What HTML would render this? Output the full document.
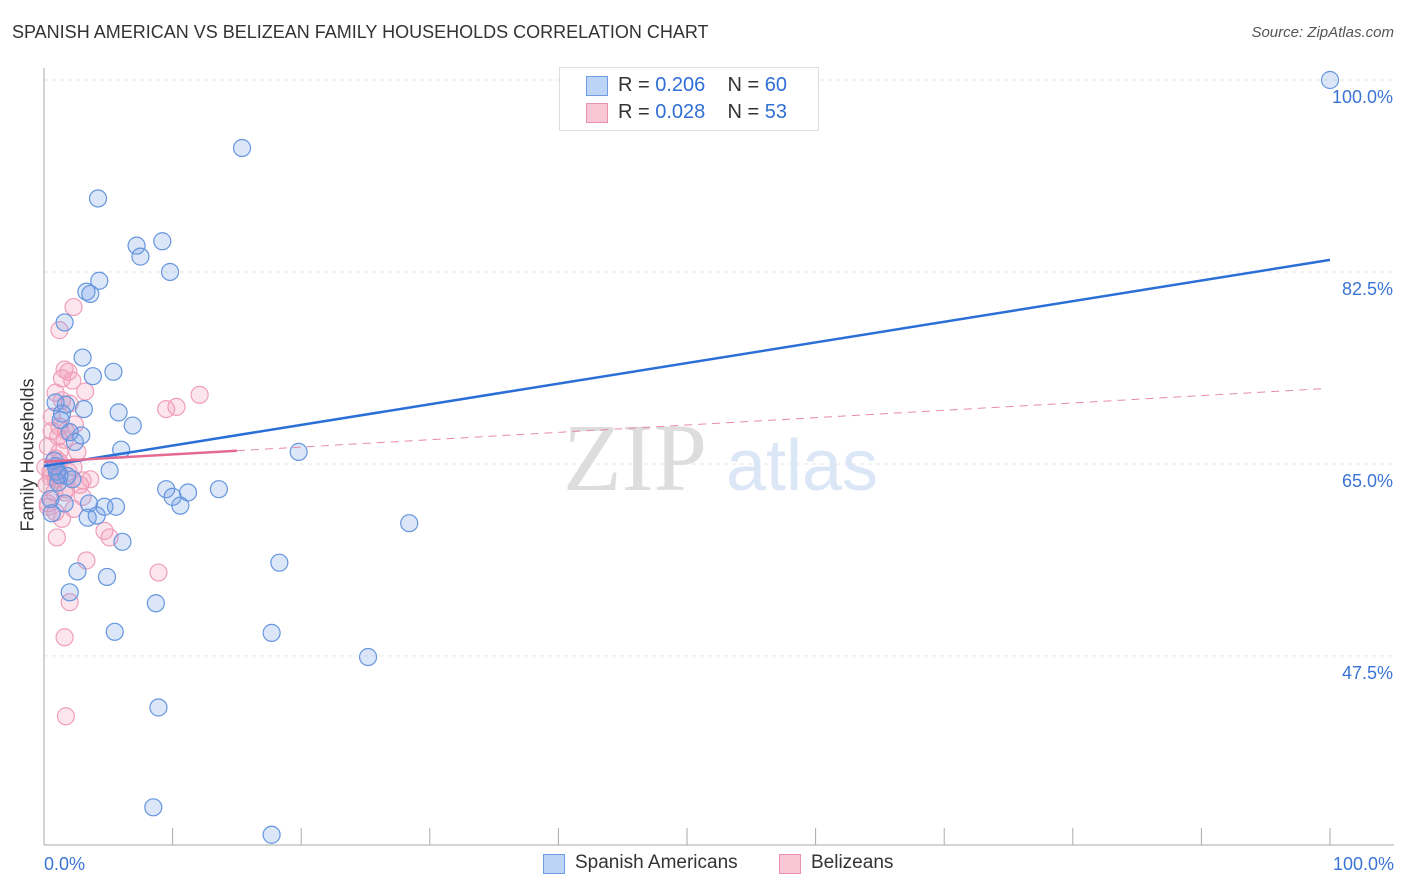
<!DOCTYPE html>
<html><head><meta charset="utf-8"><style>
body{margin:0;background:#fff;font-family:"Liberation Sans",sans-serif;}
#wrap{position:relative;width:1406px;height:892px;overflow:hidden;}
.t{position:absolute;white-space:nowrap;}
</style></head><body><div id="wrap">
<div class="t" style="left:12px;top:22px;font-size:18px;color:#333;">SPANISH AMERICAN VS BELIZEAN FAMILY HOUSEHOLDS CORRELATION CHART</div>
<div class="t" style="right:12px;top:24px;font-size:15px;color:#555;font-style:italic;">Source: ZipAtlas.com</div>
<div class="t" style="left:28px;top:455px;font-size:18px;color:#333;transform:translate(-50%,-50%) rotate(-90deg);">Family Households</div>
<svg id="svg" width="1406" height="892" style="position:absolute;left:0;top:0"></svg>
<div style="position:absolute;left:559px;top:67px;width:258px;height:62px;border:1px solid #ddd;background:#fff;font-size:20px;color:#333;">
<div style="position:absolute;left:26px;top:8px;width:20px;height:18px;background:#bcd4f5;border:1px solid #6f9be0;"></div>
<div class="t" style="left:58px;top:6px;">R = <span style="color:#2f6fd6">0.206</span>&nbsp;&nbsp;&nbsp; N = <span style="color:#2f6fd6">60</span></div>
<div style="position:absolute;left:26px;top:35px;width:20px;height:18px;background:#f8c6d5;border:1px solid #e990ad;"></div>
<div class="t" style="left:58px;top:33px;">R = <span style="color:#2f6fd6">0.028</span>&nbsp;&nbsp;&nbsp; N = <span style="color:#2f6fd6">53</span></div>
</div>
<div style="position:absolute;left:543px;top:852px;font-size:19px;color:#333;">
<div style="position:absolute;left:0;top:2px;width:20px;height:18px;background:#bcd4f5;border:1px solid #6f9be0;"></div>
<div class="t" style="left:32px;top:0;">Spanish Americans</div>
<div style="position:absolute;left:236px;top:2px;width:20px;height:18px;background:#f8c6d5;border:1px solid #e990ad;"></div>
<div class="t" style="left:268px;top:0;">Belizeans</div>
</div>
</div>
<script>
const yTicks=[100,82.5,65,47.5];
const yTickLabels=["100.0%","82.5%","65.0%","47.5%"];
const xTickLabels=["0.0%","100.0%"];
const blueX=[100,15.4,4.2,7.2,9.2,7.5,9.8,4.3,3.3,3.6,1.6,3.0,5.4,3.8,0.9,5.8,1.7,3.1,1.4,6.9,2.9,2.4,6.0,19.8,0.8,5.1,1.0,1.8,2.2,1.1,9.5,13.6,11.2,10.0,10.6,5.6,3.5,0.6,4.1,3.4,28.4,6.1,18.3,2.6,4.9,2.0,8.7,5.5,17.7,25.2,8.9,8.5,17.7,1.2,0.5,1.6,4.7,0.9,2.0,1.3];
const blueY=[100,93.8,89.2,84.9,85.3,83.9,82.5,81.7,80.7,80.5,77.9,74.7,73.4,73.0,70.6,69.7,70.4,70.0,69.6,68.5,67.6,67.0,66.3,66.1,65.3,64.4,64.3,63.9,63.6,63.3,62.7,62.7,62.4,62.0,61.2,61.1,61.4,60.5,60.3,60.1,59.6,57.9,56.0,55.2,54.7,53.3,52.3,49.7,49.6,47.4,42.8,33.7,31.2,64.0,61.8,61.4,61.1,64.8,67.9,69.0];
const pinkX=[1.2,2.3,1.6,1.9,1.4,2.2,3.2,0.9,9.5,10.3,12.1,1.2,1.7,2.4,0.6,1.1,1.6,0.3,0.9,1.2,2.3,0.5,1.0,3.0,0.2,1.7,3.0,0.3,2.3,0.9,1.4,4.7,5.1,1.0,3.3,8.9,2.0,1.6,1.7,0.5,0.1,0.8,1.9,2.6,1.2,0.6,2.0,1.4,0.3,2.8,0.9,1.6,3.6];
const pinkY=[77.2,79.3,73.6,73.4,72.8,72.6,71.6,71.5,70.0,70.2,71.3,68.4,68.0,68.6,68.0,67.5,67.2,66.6,65.5,65.2,64.7,64.3,64.0,63.5,63.1,62.7,62.0,61.4,60.9,60.6,60.0,58.9,58.3,58.3,56.2,55.1,52.4,49.2,42.0,63.8,64.7,62.4,64.3,66.1,66.1,69.3,70.5,70.8,61.1,63.1,63.6,62.4,63.6];
const blueTrend=[64.8,83.6], pinkTrend=[65.2,71.9];
const svg=document.getElementById('svg'),NS='http://www.w3.org/2000/svg';
const X=v=>44+v*12.86, Y=v=>80+(100-v)*10.97;
function mk(t,a){const e=document.createElementNS(NS,t);for(const k in a)e.setAttribute(k,a[k]);svg.appendChild(e);return e;}
yTicks.forEach((v,i)=>{const g=mk('line',{x1:44,x2:1394,y1:Y(v),y2:Y(v),stroke:'#e6e6e6','stroke-dasharray':'4,4'});

const t=mk('text',{x:1393,y:Y(v)+23,'text-anchor':'end','font-size':18,fill:'#3a74d4','font-family':'Liberation Sans'});t.textContent=yTickLabels[i];
});
const ax=mk('line',{x1:44,x2:44,y1:68,y2:845,stroke:'#aaa'});
const bx=mk('line',{x1:44,x2:1394,y1:845,y2:845,stroke:'#aaa'});
for(let i=0;i<=10;i++){const l=mk('line',{x1:X(i*10),x2:X(i*10),y1:828,y2:845,stroke:'#aaa'});}
[[0,'start'],[100,'end']].forEach((p,i)=>{const t=mk('text',{x:X(p[0])+(i?64:0),y:870,'text-anchor':p[1],'font-size':18,fill:'#3a74d4','font-family':'Liberation Sans'});t.textContent=xTickLabels[i];
});
const w1=mk('text',{x:635,y:490,'text-anchor':'middle','font-size':96,fill:'#ddd','font-family':'Liberation Serif'});w1.textContent='ZIP';
const w2=mk('text',{x:802,y:490,'text-anchor':'middle','font-size':72,fill:'#dbe6f7','font-family':'Liberation Sans'});w2.textContent='atlas';
pinkX.forEach((x,i)=>{const c=mk('circle',{cx:X(x),cy:Y(pinkY[i]),r:8.5,fill:'rgba(242,150,180,0.25)',stroke:'#ef9fba','stroke-width':1.2});
});
blueX.forEach((x,i)=>{const c=mk('circle',{cx:X(x),cy:Y(blueY[i]),r:8.5,fill:'rgba(110,155,230,0.25)',stroke:'#6596de','stroke-width':1.2});
});
const pl=v=>pinkTrend[0]+(pinkTrend[1]-pinkTrend[0])*v/100;
const pd=mk('line',{x1:X(15),y1:Y(pl(15)),x2:X(99.6),y2:Y(pl(99.6)),stroke:'#e88aa8','stroke-width':1,'stroke-dasharray':'8,6'});

const bl=mk('line',{x1:X(0),y1:Y(blueTrend[0]),x2:X(100),y2:Y(blueTrend[1]),stroke:'#2a6fd6','stroke-width':2.5});

const ps=mk('line',{x1:X(0),y1:Y(pl(0)),x2:X(15),y2:Y(pl(15)),stroke:'#e56a92','stroke-width':2.5});

</script></body></html>
